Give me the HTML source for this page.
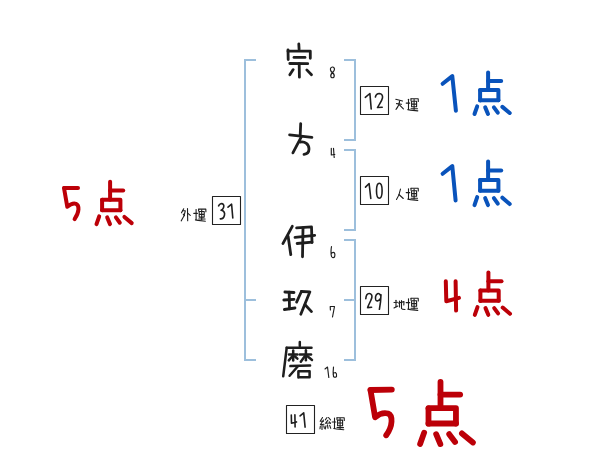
<!DOCTYPE html>
<html><head><meta charset="utf-8"><style>
html,body{margin:0;padding:0;background:#fff;}
body{width:600px;height:470px;overflow:hidden;font-family:"Liberation Sans",sans-serif;}
svg{display:block;}
</style></head><body>
<svg width="600" height="470" viewBox="0 0 600 470">
<g fill="none" stroke-linecap="round" stroke-linejoin="round">
<rect x="244" y="59" width="2" height="302" fill="#9dbfdc"/>
<rect x="244" y="59" width="12" height="2" fill="#9dbfdc"/>
<rect x="244" y="359" width="12" height="2" fill="#9dbfdc"/>
<rect x="246" y="299" width="10" height="2" fill="#9dbfdc"/>
<rect x="354" y="59" width="2" height="82" fill="#9dbfdc"/>
<rect x="344" y="59" width="12" height="2" fill="#9dbfdc"/>
<rect x="344" y="139" width="12" height="2" fill="#9dbfdc"/>
<rect x="354" y="149" width="2" height="82" fill="#9dbfdc"/>
<rect x="344" y="149" width="12" height="2" fill="#9dbfdc"/>
<rect x="344" y="229" width="12" height="2" fill="#9dbfdc"/>
<rect x="354" y="239" width="2" height="122" fill="#9dbfdc"/>
<rect x="344" y="239" width="12" height="2" fill="#9dbfdc"/>
<rect x="344" y="359" width="12" height="2" fill="#9dbfdc"/>
<rect x="344" y="299" width="10" height="2" fill="#9dbfdc"/>
<rect x="360.5" y="86.5" width="28" height="28" fill="none" stroke="#222" stroke-width="1.1"/>
<rect x="360.5" y="176.5" width="28" height="28" fill="none" stroke="#222" stroke-width="1.1"/>
<rect x="360.5" y="286.5" width="28" height="28" fill="none" stroke="#222" stroke-width="1.1"/>
<rect x="212.5" y="196.5" width="28" height="28" fill="none" stroke="#222" stroke-width="1.1"/>
<rect x="286.5" y="405.5" width="28" height="28" fill="none" stroke="#222" stroke-width="1.1"/>
<path d="M442.6,83.8 L452.3,76.1 L455.9,110.8" stroke="#0953bb" stroke-width="4.0" />
<path d="M 488.10,72.50 L 488.10,90.10" stroke="#0953bb" stroke-width="4.0" />
<path d="M 488.10,81.00 L 501.20,81.00" stroke="#0953bb" stroke-width="4.0" />
<path d="M 480.10,90.20 L 480.10,100.40" stroke="#0953bb" stroke-width="4.0" />
<path d="M 480.10,90.10 L 498.40,90.10 L 498.40,100.30" stroke="#0953bb" stroke-width="4.0" />
<path d="M 480.10,100.30 L 498.40,100.30" stroke="#0953bb" stroke-width="4.0" />
<path d="M 477.20,106.40 L 474.50,114.00" stroke="#0953bb" stroke-width="4.0" />
<path d="M 485.20,107.40 L 488.00,114.00" stroke="#0953bb" stroke-width="4.0" />
<path d="M 493.90,107.40 L 497.80,112.60" stroke="#0953bb" stroke-width="4.0" />
<path d="M 502.40,106.90 L 509.70,113.00" stroke="#0953bb" stroke-width="4.0" />
<path d="M442.6,173.8 L452.3,166.1 L455.6,200.5" stroke="#0953bb" stroke-width="4.0" />
<path d="M 488.10,161.53 L 488.10,180.00" stroke="#0953bb" stroke-width="4.0" />
<path d="M 488.10,170.45 L 501.20,170.45" stroke="#0953bb" stroke-width="4.0" />
<path d="M 480.10,180.11 L 480.10,190.82" stroke="#0953bb" stroke-width="4.0" />
<path d="M 480.10,180.00 L 498.40,180.00 L 498.40,190.72" stroke="#0953bb" stroke-width="4.0" />
<path d="M 480.10,190.72 L 498.40,190.72" stroke="#0953bb" stroke-width="4.0" />
<path d="M 477.20,197.12 L 474.50,205.10" stroke="#0953bb" stroke-width="4.0" />
<path d="M 485.20,198.17 L 488.00,205.10" stroke="#0953bb" stroke-width="4.0" />
<path d="M 493.90,198.17 L 497.80,203.63" stroke="#0953bb" stroke-width="4.0" />
<path d="M 502.40,197.65 L 509.70,204.05" stroke="#0953bb" stroke-width="4.0" />
<path d="M445.8,281.3 L446.3,301.3 L459,297.9" stroke="#bc0008" stroke-width="4.0" />
<path d="M455.6,281.3 L456.1,310.6" stroke="#bc0008" stroke-width="4.0" />
<path d="M 488.40,272.51 L 488.40,290.46" stroke="#bc0008" stroke-width="4.0" />
<path d="M 488.40,281.18 L 501.50,281.18" stroke="#bc0008" stroke-width="4.0" />
<path d="M 480.40,290.56 L 480.40,300.97" stroke="#bc0008" stroke-width="4.0" />
<path d="M 480.40,290.46 L 498.70,290.46 L 498.70,300.87" stroke="#bc0008" stroke-width="4.0" />
<path d="M 480.40,300.87 L 498.70,300.87" stroke="#bc0008" stroke-width="4.0" />
<path d="M 477.50,307.09 L 474.80,314.84" stroke="#bc0008" stroke-width="4.0" />
<path d="M 485.50,308.11 L 488.30,314.84" stroke="#bc0008" stroke-width="4.0" />
<path d="M 494.20,308.11 L 498.10,313.41" stroke="#bc0008" stroke-width="4.0" />
<path d="M 502.70,307.60 L 510.00,313.82" stroke="#bc0008" stroke-width="4.0" />
<path d="M64.3,188 L78,188" stroke="#bc0008" stroke-width="4.0" />
<path d="M64,188 L67.3,206.8 C70,204.5 73.5,203 76,203.8 C79.5,205.5 79.5,212 74.6,219.2" stroke="#bc0008" stroke-width="4.0" />
<path d="M 110.10,181.81 L 110.10,199.76" stroke="#bc0008" stroke-width="4.0" />
<path d="M 110.10,190.48 L 123.20,190.48" stroke="#bc0008" stroke-width="4.0" />
<path d="M 102.10,199.86 L 102.10,210.27" stroke="#bc0008" stroke-width="4.0" />
<path d="M 102.10,199.76 L 120.40,199.76 L 120.40,210.17" stroke="#bc0008" stroke-width="4.0" />
<path d="M 102.10,210.17 L 120.40,210.17" stroke="#bc0008" stroke-width="4.0" />
<path d="M 99.20,216.39 L 96.50,224.14" stroke="#bc0008" stroke-width="4.0" />
<path d="M 107.20,217.41 L 110.00,224.14" stroke="#bc0008" stroke-width="4.0" />
<path d="M 115.90,217.41 L 119.80,222.71" stroke="#bc0008" stroke-width="4.0" />
<path d="M 124.40,216.90 L 131.70,223.12" stroke="#bc0008" stroke-width="4.0" />
<path d="M370.5,390 L391.8,389.6" stroke="#bc0008" stroke-width="5.8" />
<path d="M370.5,390 L375.1,417.3 C379,414 384,412.5 388,413.5 C393,415.5 393,426 386.2,435.3" stroke="#bc0008" stroke-width="5.8" />
<path d="M 440.50,381.80 L 440.50,408.20" stroke="#bc0008" stroke-width="5.8" />
<path d="M 440.50,394.55 L 460.15,394.55" stroke="#bc0008" stroke-width="5.8" />
<path d="M 428.50,408.35 L 428.50,423.65" stroke="#bc0008" stroke-width="5.8" />
<path d="M 428.50,408.20 L 455.95,408.20 L 455.95,423.50" stroke="#bc0008" stroke-width="5.8" />
<path d="M 428.50,423.50 L 455.95,423.50" stroke="#bc0008" stroke-width="5.8" />
<path d="M 424.15,432.65 L 420.10,444.05" stroke="#bc0008" stroke-width="5.8" />
<path d="M 436.15,434.15 L 440.35,444.05" stroke="#bc0008" stroke-width="5.8" />
<path d="M 449.20,434.15 L 455.05,441.95" stroke="#bc0008" stroke-width="5.8" />
<path d="M 461.95,433.40 L 472.90,442.55" stroke="#bc0008" stroke-width="5.8" />
<path d="M298.8,44 L299.1,49.4" stroke="#1e1e1e" stroke-width="2.8" />
<path d="M288,49.8 L288.2,59.5" stroke="#1e1e1e" stroke-width="2.8" />
<path d="M288,51.2 L310.3,51.2 L310.3,58.3" stroke="#1e1e1e" stroke-width="2.8" />
<path d="M294,57.4 L305,57.4" stroke="#1e1e1e" stroke-width="2.8" />
<path d="M289.8,63.5 L307.7,63.7" stroke="#1e1e1e" stroke-width="2.8" />
<path d="M299.2,63.6 L299.4,77.2" stroke="#1e1e1e" stroke-width="2.8" />
<path d="M293.2,69.6 L289.8,74.8" stroke="#1e1e1e" stroke-width="2.8" />
<path d="M306.8,69.9 L311.5,74.8" stroke="#1e1e1e" stroke-width="2.8" />
<path d="M300.7,123.6 L300.2,134.8" stroke="#1e1e1e" stroke-width="2.8" />
<path d="M289.6,134.8 L311.9,137.4" stroke="#1e1e1e" stroke-width="2.8" />
<path d="M301.3,136.8 L292.9,152.9" stroke="#1e1e1e" stroke-width="2.8" />
<path d="M300.2,142 C305,141.2 309,144 309,149 C309,152 307,154 304,154.3" stroke="#1e1e1e" stroke-width="2.8" />
<path d="M292.3,226.3 L282.9,243.6" stroke="#1e1e1e" stroke-width="2.8" />
<path d="M288.1,236.3 L290.8,254.7" stroke="#1e1e1e" stroke-width="2.8" />
<path d="M296.6,227.8 L311.5,226.8 L312,242.5" stroke="#1e1e1e" stroke-width="2.8" />
<path d="M295,237.3 L314.7,235.3" stroke="#1e1e1e" stroke-width="2.8" />
<path d="M297.1,243.5 L312,242.2" stroke="#1e1e1e" stroke-width="2.8" />
<path d="M303,227.9 L302.5,256.8" stroke="#1e1e1e" stroke-width="2.8" />
<path d="M284.9,292 L294,292.5" stroke="#1e1e1e" stroke-width="2.8" />
<path d="M283.8,300 L294,299.4" stroke="#1e1e1e" stroke-width="2.8" />
<path d="M284.4,309.5 L295,308" stroke="#1e1e1e" stroke-width="2.8" />
<path d="M289.2,292.2 L289.5,308.8" stroke="#1e1e1e" stroke-width="2.8" />
<path d="M301.4,291.5 L296.6,302.1" stroke="#1e1e1e" stroke-width="2.8" />
<path d="M301.4,291.5 L309.9,291.8 L300.8,314.2" stroke="#1e1e1e" stroke-width="2.8" />
<path d="M305.1,304.8 L311.5,311.6" stroke="#1e1e1e" stroke-width="2.8" />
<path d="M299.8,341.9 L299.8,346" stroke="#1e1e1e" stroke-width="2.5" />
<path d="M286.7,347.8 L311.5,347.8" stroke="#1e1e1e" stroke-width="2.5" />
<path d="M286.7,347.8 L283.2,376.3" stroke="#1e1e1e" stroke-width="2.5" />
<path d="M289,354.4 L297.4,354.4" stroke="#1e1e1e" stroke-width="2.5" />
<path d="M293.2,350.4 L293.2,360.4" stroke="#1e1e1e" stroke-width="2.5" />
<path d="M293,355.5 L288.8,360.4" stroke="#1e1e1e" stroke-width="2.5" />
<path d="M295,356.5 L297.4,358.6" stroke="#1e1e1e" stroke-width="2.5" />
<path d="M299.8,354.4 L311,354.4" stroke="#1e1e1e" stroke-width="2.5" />
<path d="M305.9,350.2 L305.9,360.2" stroke="#1e1e1e" stroke-width="2.5" />
<path d="M305.3,355.5 L300.8,361.8" stroke="#1e1e1e" stroke-width="2.5" />
<path d="M307.5,356.3 L312,360" stroke="#1e1e1e" stroke-width="2.5" />
<path d="M290.4,366.1 L310.1,365.6" stroke="#1e1e1e" stroke-width="2.5" />
<path d="M297.9,366.2 L289.6,375.8" stroke="#1e1e1e" stroke-width="2.5" />
<path d="M298.4,371.2 L298.4,377.6 M298.4,371.2 L309.6,371.2 L309.6,377.3 M298.4,377.3 L309.6,377.3" stroke="#1e1e1e" stroke-width="2.5" />
<path d="M332.5,67 Q330,67.5 330.5,70 Q331,72 332.5,72.5 Q335,75 334,77 Q332.5,78.5 331,77 Q330,75 332.5,72.5 Q334.5,71 334.5,69 Q334,66.8 332.5,67" stroke="#1e1e1e" stroke-width="1.15" />
<path d="M331.3,148.3 L331.3,155 L334.8,154.5 M333.5,148.3 L334.2,157.5" stroke="#1e1e1e" stroke-width="1.15" />
<path d="M331.5,246.5 Q330.5,252 331.5,256.5 Q333,258.5 334.5,257 Q335.5,254 334,252.5 Q332.5,252 331,254" stroke="#1e1e1e" stroke-width="1.15" />
<path d="M330.2,306.5 L334.5,306.5 L332.5,317 M330.2,306.5 L330.4,310" stroke="#1e1e1e" stroke-width="1.15" />
<path d="M325,369 L327.5,367 L328.8,377.5" stroke="#1e1e1e" stroke-width="1.15" />
<path d="M333.5,367 Q332.8,372 333.5,376.5 Q335,378 336.5,376.5 Q337,373.5 335.5,372.5 Q334,372.5 333,374" stroke="#1e1e1e" stroke-width="1.15" />
<path d="M365.3,97.3 L369.9,93.5 L371.2,109" stroke="#1e1e1e" stroke-width="1.6" />
<path d="M375.4,97 C376,94.5 377.5,93.5 379.3,93.5 C381.8,93.6 382.8,95.5 382.5,97.8 C382,101 379,104.5 377.5,107.5 L382.2,107.2" stroke="#1e1e1e" stroke-width="1.6" />
<path d="M365.5,187.1 L369.1,183.5 L370.8,198.5" stroke="#1e1e1e" stroke-width="1.6" />
<path d="M379.3,183.3 C376.8,183.3 376.5,187.5 376.5,190.8 C376.5,194.5 377.2,198.3 379.3,198.3 C381.5,198.3 382.1,194.5 382.1,190.8 C382.1,187 381.7,183.3 379.3,183.3 Z" stroke="#1e1e1e" stroke-width="1.6" />
<path d="M365.8,298.8 C366,295.5 367.5,293.5 369.2,293.5 C371.5,293.5 372.3,295.5 371.8,297.8 C371,301 368.5,304.5 367.6,307.6 L371.6,307.3" stroke="#1e1e1e" stroke-width="1.6" />
<path d="M380.8,296 C380.2,293.8 378.6,293.2 377.5,293.7 C375.6,294.6 375,298 375.8,300 C376.6,301.6 379.2,301 380.6,298.3 M381,294.8 C380.9,300 380.2,305 379.4,309.3" stroke="#1e1e1e" stroke-width="1.6" />
<path d="M291.3,415 L291.5,423.3 L296.5,421.9 M294.9,414.7 L295.1,426.9" stroke="#1e1e1e" stroke-width="1.6" />
<path d="M300.1,415.9 L303.7,412.8 L305.1,427.2" stroke="#1e1e1e" stroke-width="1.6" />
<path d="M218.6,205.8 C219.5,203.8 222,202.8 223.4,204.5 C224.5,206 223.5,209 221.1,210.3 C224,210.5 225,213 224.5,215 C224,217.5 222,219 220.3,218.9" stroke="#1e1e1e" stroke-width="1.6" />
<path d="M228,207.2 L231.6,204.2 L232.8,218" stroke="#1e1e1e" stroke-width="1.6" />
<path d="M183.7,208.8 L181.5,212.8" stroke="#1e1e1e" stroke-width="1.1" />
<path d="M182.5,210.8 L185.3,210.8 Q184.5,216.5 181.2,220.8" stroke="#1e1e1e" stroke-width="1.1" />
<path d="M183.2,214.2 L184.5,215.6" stroke="#1e1e1e" stroke-width="1.1" />
<path d="M187.5,208.5 L187.7,220.8" stroke="#1e1e1e" stroke-width="1.1" />
<path d="M187.9,213.3 L190.3,215.3" stroke="#1e1e1e" stroke-width="1.1" />
<path d="M 196.10,209.50 L 196.10,219.60" stroke="#1e1e1e" stroke-width="1.1" />
<path d="M 193.80,213.40 L 197.40,213.40" stroke="#1e1e1e" stroke-width="1.1" />
<path d="M 195.40,219.90 L 198.10,220.40 L 205.40,221.20" stroke="#1e1e1e" stroke-width="1.1" />
<path d="M 198.60,209.20 L 198.60,211.00" stroke="#1e1e1e" stroke-width="1.1" />
<path d="M 198.60,209.10 L 205.80,209.10 L 205.90,211.80" stroke="#1e1e1e" stroke-width="1.1" />
<path d="M 199.20,211.50 L 199.20,217.10 M 199.20,211.50 L 204.20,211.50 L 204.20,217.10 M 199.20,214.40 L 204.20,214.40 M 199.20,217.10 L 204.20,217.10" stroke="#1e1e1e" stroke-width="1.1" />
<path d="M 198.60,219.00 L 205.10,219.00" stroke="#1e1e1e" stroke-width="1.1" />
<path d="M 201.70,209.80 L 201.70,219.80" stroke="#1e1e1e" stroke-width="1.1" />
<path d="M395.8,99.3 L402.5,101" stroke="#1e1e1e" stroke-width="1.1" />
<path d="M396.5,103.6 L401.5,104.3" stroke="#1e1e1e" stroke-width="1.1" />
<path d="M399.6,100.8 Q399.5,105.5 396,109.3" stroke="#1e1e1e" stroke-width="1.1" />
<path d="M399.4,104.8 L403.4,108.8" stroke="#1e1e1e" stroke-width="1.1" />
<path d="M 408.50,99.20 L 408.50,109.30" stroke="#1e1e1e" stroke-width="1.1" />
<path d="M 406.20,103.10 L 409.80,103.10" stroke="#1e1e1e" stroke-width="1.1" />
<path d="M 407.80,109.60 L 410.50,110.10 L 417.80,110.90" stroke="#1e1e1e" stroke-width="1.1" />
<path d="M 411.00,98.90 L 411.00,100.70" stroke="#1e1e1e" stroke-width="1.1" />
<path d="M 411.00,98.80 L 418.20,98.80 L 418.30,101.50" stroke="#1e1e1e" stroke-width="1.1" />
<path d="M 411.60,101.20 L 411.60,106.80 M 411.60,101.20 L 416.60,101.20 L 416.60,106.80 M 411.60,104.10 L 416.60,104.10 M 411.60,106.80 L 416.60,106.80" stroke="#1e1e1e" stroke-width="1.1" />
<path d="M 411.00,108.70 L 417.50,108.70" stroke="#1e1e1e" stroke-width="1.1" />
<path d="M 414.10,99.50 L 414.10,109.50" stroke="#1e1e1e" stroke-width="1.1" />
<path d="M400.5,189 Q399.5,195 396.5,199.5" stroke="#1e1e1e" stroke-width="1.1" />
<path d="M398.9,194.5 L403.3,198.5" stroke="#1e1e1e" stroke-width="1.1" />
<path d="M 408.50,188.70 L 408.50,198.80" stroke="#1e1e1e" stroke-width="1.1" />
<path d="M 406.20,192.60 L 409.80,192.60" stroke="#1e1e1e" stroke-width="1.1" />
<path d="M 407.80,199.10 L 410.50,199.60 L 417.80,200.40" stroke="#1e1e1e" stroke-width="1.1" />
<path d="M 411.00,188.40 L 411.00,190.20" stroke="#1e1e1e" stroke-width="1.1" />
<path d="M 411.00,188.30 L 418.20,188.30 L 418.30,191.00" stroke="#1e1e1e" stroke-width="1.1" />
<path d="M 411.60,190.70 L 411.60,196.30 M 411.60,190.70 L 416.60,190.70 L 416.60,196.30 M 411.60,193.60 L 416.60,193.60 M 411.60,196.30 L 416.60,196.30" stroke="#1e1e1e" stroke-width="1.1" />
<path d="M 411.00,198.20 L 417.50,198.20" stroke="#1e1e1e" stroke-width="1.1" />
<path d="M 414.10,189.00 L 414.10,199.00" stroke="#1e1e1e" stroke-width="1.1" />
<path d="M394,302.5 L397.5,302.3" stroke="#1e1e1e" stroke-width="1.1" />
<path d="M396,300.3 L396,306.8" stroke="#1e1e1e" stroke-width="1.1" />
<path d="M394,308 L397.8,306" stroke="#1e1e1e" stroke-width="1.1" />
<path d="M398.5,303 L404,301.6 L403.8,305" stroke="#1e1e1e" stroke-width="1.1" />
<path d="M401.5,300.5 L401.5,308.5 Q402,309.5 405,309.5" stroke="#1e1e1e" stroke-width="1.1" />
<path d="M399.5,301 L399.5,307" stroke="#1e1e1e" stroke-width="1.1" />
<path d="M 408.50,298.70 L 408.50,308.80" stroke="#1e1e1e" stroke-width="1.1" />
<path d="M 406.20,302.60 L 409.80,302.60" stroke="#1e1e1e" stroke-width="1.1" />
<path d="M 407.80,309.10 L 410.50,309.60 L 417.80,310.40" stroke="#1e1e1e" stroke-width="1.1" />
<path d="M 411.00,298.40 L 411.00,300.20" stroke="#1e1e1e" stroke-width="1.1" />
<path d="M 411.00,298.30 L 418.20,298.30 L 418.30,301.00" stroke="#1e1e1e" stroke-width="1.1" />
<path d="M 411.60,300.70 L 411.60,306.30 M 411.60,300.70 L 416.60,300.70 L 416.60,306.30 M 411.60,303.60 L 416.60,303.60 M 411.60,306.30 L 416.60,306.30" stroke="#1e1e1e" stroke-width="1.1" />
<path d="M 411.00,308.20 L 417.50,308.20" stroke="#1e1e1e" stroke-width="1.1" />
<path d="M 414.10,299.00 L 414.10,309.00" stroke="#1e1e1e" stroke-width="1.1" />
<path d="M322.5,417.5 L320.2,421.2 L323.5,421.2" stroke="#1e1e1e" stroke-width="1.1" />
<path d="M323.5,420 L320.4,424.7 L324,424.2" stroke="#1e1e1e" stroke-width="1.1" />
<path d="M322,424.7 L322,429.5" stroke="#1e1e1e" stroke-width="1.1" />
<path d="M320.3,426.3 L320,428.8" stroke="#1e1e1e" stroke-width="1.1" />
<path d="M323.8,425.8 L324.4,428.3" stroke="#1e1e1e" stroke-width="1.1" />
<path d="M327,417.5 L325.3,419.8" stroke="#1e1e1e" stroke-width="1.1" />
<path d="M328.5,417.5 L330.5,419.8" stroke="#1e1e1e" stroke-width="1.1" />
<path d="M327.8,420.3 L325.5,423.3 L330.2,423" stroke="#1e1e1e" stroke-width="1.1" />
<path d="M329.3,421.8 L330.5,423.3" stroke="#1e1e1e" stroke-width="1.1" />
<path d="M326,425.8 L325.2,429" stroke="#1e1e1e" stroke-width="1.1" />
<path d="M327.5,424.8 L328,428.3" stroke="#1e1e1e" stroke-width="1.1" />
<path d="M329.7,425.3 L330.7,428.3" stroke="#1e1e1e" stroke-width="1.1" />
<path d="M 334.50,418.10 L 334.50,428.20" stroke="#1e1e1e" stroke-width="1.1" />
<path d="M 332.20,422.00 L 335.80,422.00" stroke="#1e1e1e" stroke-width="1.1" />
<path d="M 333.80,428.50 L 336.50,429.00 L 343.80,429.80" stroke="#1e1e1e" stroke-width="1.1" />
<path d="M 337.00,417.80 L 337.00,419.60" stroke="#1e1e1e" stroke-width="1.1" />
<path d="M 337.00,417.70 L 344.20,417.70 L 344.30,420.40" stroke="#1e1e1e" stroke-width="1.1" />
<path d="M 337.60,420.10 L 337.60,425.70 M 337.60,420.10 L 342.60,420.10 L 342.60,425.70 M 337.60,423.00 L 342.60,423.00 M 337.60,425.70 L 342.60,425.70" stroke="#1e1e1e" stroke-width="1.1" />
<path d="M 337.00,427.60 L 343.50,427.60" stroke="#1e1e1e" stroke-width="1.1" />
<path d="M 340.10,418.40 L 340.10,428.40" stroke="#1e1e1e" stroke-width="1.1" />
</g>
</svg>
</body></html>
